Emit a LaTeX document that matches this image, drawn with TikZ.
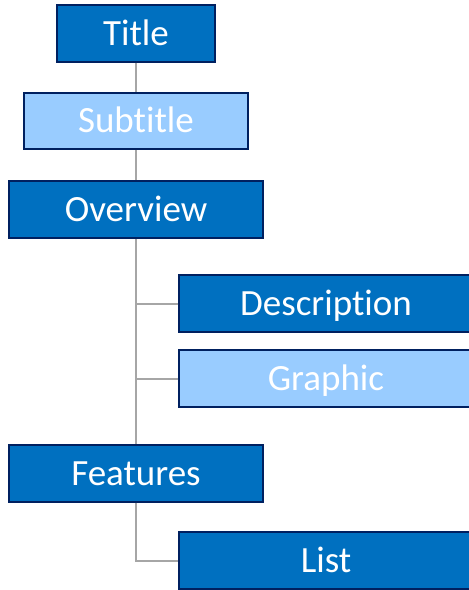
\documentclass[tikz,border=0pt]{standalone}
\usepackage{fontspec}
\setmainfont{Carlito}[Ligatures={NoCommon}]
\usetikzlibrary{positioning}
\definecolor{boxdark}{RGB}{0,112,192}
\definecolor{boxlight}{RGB}{153,204,255}
\definecolor{boxline}{RGB}{0,32,96}
\definecolor{linkgray}{RGB}{166,166,166}
\begin{document}
\begin{tikzpicture}[
  x=1pt, y=-1pt,
  font=\fontsize{37}{44}\selectfont,
  darkbox/.style={draw=boxline, line width=1.5pt, fill=boxdark, text=white, inner sep=0pt, minimum height=57pt, text height=23pt, text depth=0pt},
  lightbox/.style={darkbox, fill=boxlight},
  link/.style={draw=linkgray, line width=2pt}
]
\useasboundingbox (0,0) rectangle (469,590);

% Main column
\node[darkbox, minimum width=158pt] (title) at (136,33.5) {Title};
\node[lightbox, minimum width=224pt, minimum height=56pt] (subtitle) at (136,121) {Subtitle};
\node[darkbox, minimum width=254pt] (overview) at (136,209.5) {Overview};
\node[darkbox, minimum width=254pt] (features) at (136,473.5) {Features};

% Child boxes
\node[darkbox, minimum width=294pt] (description) at (326,303.5) {Description};
\node[lightbox, minimum width=294pt] (graphic) at (326,378.5) {Graphic};
\node[darkbox, minimum width=294pt] (list) at (326,560.5) {List};

% Links
\draw[link] (title) -- (subtitle);
\draw[link] (subtitle) -- (overview);
\draw[link] (overview) -- (features);
\draw[link] (description.west) -- (description.west -| overview.south);
\draw[link] (graphic.west) -- (graphic.west -| overview.south);
\draw[link] (features.south) |- (list.west);
\end{tikzpicture}
\end{document}
